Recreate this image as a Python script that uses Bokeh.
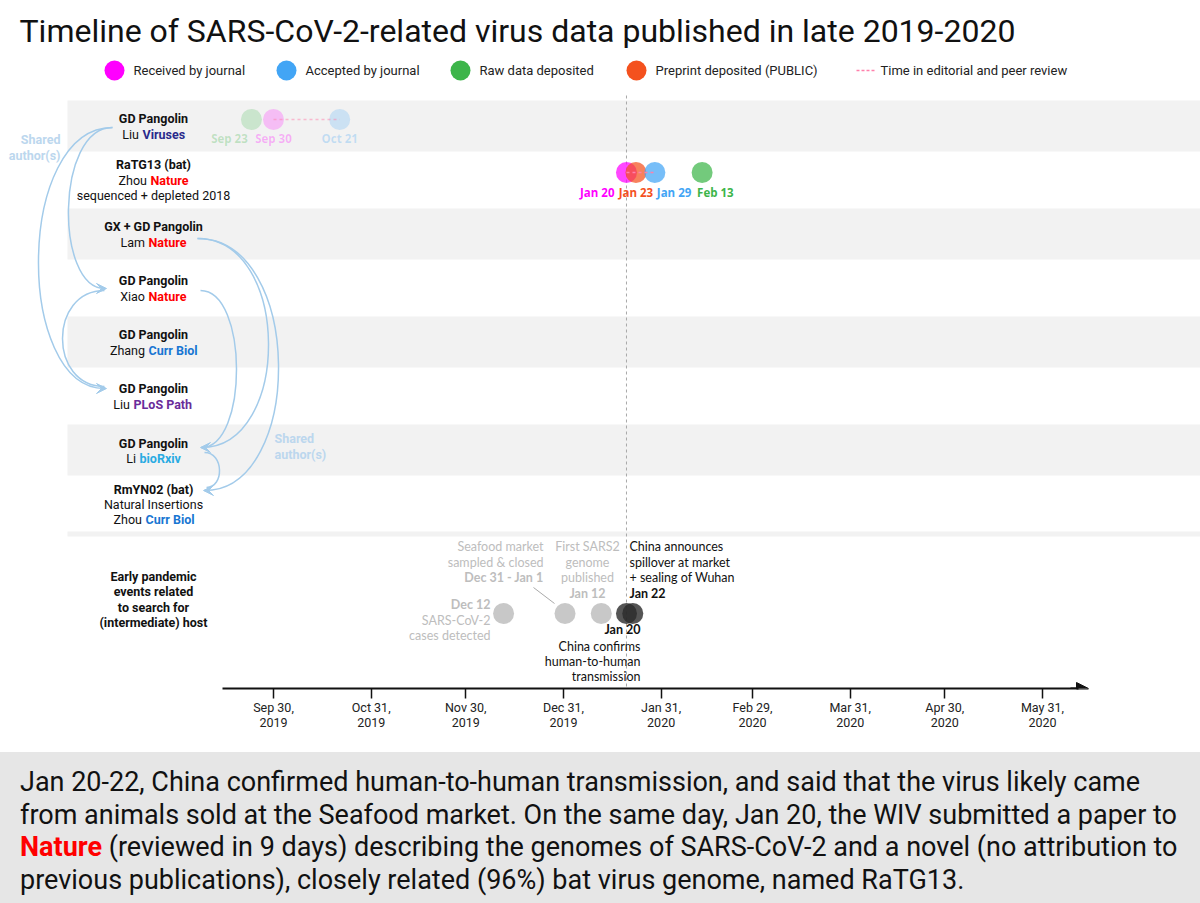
import pandas as pd
from bokeh.plotting import figure
from bokeh.models import Range1d, FixedTicker, Arrow, VeeHead, NormalHead, Div
from bokeh.layouts import column
from bokeh.core.properties import value
from bokeh.embed import file_html
from bokeh.resources import INLINE

# ---------------- data ----------------
title_text = "Timeline of SARS-CoV-2-related virus data published in late 2019-2020"

legend_names = ["Received by journal", "Accepted by journal", "Raw data deposited", "Preprint deposited (PUBLIC)"]
legend_colors = ["#FF00FF", "#42A5F5", "#3DB54A", "#F4511E"]
review_label = "Time in editorial and peer review"

row_titles = ["GD Pangolin", "RaTG13 (bat)", "GX + GD Pangolin", "GD Pangolin",
              "GD Pangolin", "GD Pangolin", "GD Pangolin", "RmYN02 (bat)"]
row_authors = ["Liu", "Zhou", "Lam", "Xiao", "Zhang", "Liu", "Li", "Zhou"]
row_journals = ["Viruses", "Nature", "Nature", "Nature", "Curr Biol", "PLoS Path", "bioRxiv", "Curr Biol"]
journal_colors = ["#2A2A8C", "#FF0000", "#FF0000", "#FF0000", "#1976D2", "#6A2C9A", "#29ABE2", "#1976D2"]

liu_dates = ["2019-09-23", "2019-09-30", "2019-10-21"]
liu_labels = ["Sep 23", "Sep 30", "Oct 21"]
liu_colors = ["#3DB54A", "#FF00FF", "#42A5F5"]

zhou_dates = ["2020-01-20", "2020-01-23", "2020-01-29", "2020-02-13"]
zhou_labels = ["Jan 20", "Jan 23", "Jan 29", "Feb 13"]
zhou_colors = ["#FF00FF", "#F4511E", "#42A5F5", "#3DB54A"]

event_dates = ["2019-12-12", "2019-12-31 12:00", "2020-01-12", "2020-01-20", "2020-01-22"]
event_colors = ["#C8C8C8", "#C8C8C8", "#C8C8C8", "#2A2A2A", "#2A2A2A"]
event_alpha = [1.0, 1.0, 1.0, 0.8, 0.8]

tick_dates = ["2019-09-30", "2019-10-31", "2019-11-30", "2019-12-31", "2020-01-31",
              "2020-02-29", "2020-03-31", "2020-04-30", "2020-05-31"]
tick_labels = ["Sep 30,\n2019", "Oct 31,\n2019", "Nov 30,\n2019", "Dec 31,\n2019", "Jan 31,\n2020",
               "Feb 29,\n2020", "Mar 31,\n2020", "Apr 30,\n2020", "May 31,\n2020"]

# ---------------- helpers ----------------
DAY = 86400000.0
def ms(d):
    return pd.Timestamp(d).value / 1e6

PPD = 3.1516  # pixels per day
REF = ms("2019-09-30")
def X(xr):  # layout pixel -> time coordinate
    return REF + (xr - 273) / PPD * DAY
def Y(yr):
    return yr

p = figure(width=1200, height=752, x_axis_type="datetime", y_axis_type=None,
           x_range=Range1d(X(0), X(1200)), y_range=Range1d(Y(688), Y(0)),
           output_backend="svg", toolbar_location=None, title=None,
           min_border_left=0, min_border_right=0, min_border_top=0, min_border_bottom=64,
           outline_line_color=None, background_fill_color="white", border_fill_color="white")
p.xgrid.visible = False

def T(xr, yr, s, size="12.5px", color="#111111", bold=False, align="center",
      font="Roboto", alpha=1.0):
    p.text(x=[X(xr)], y=[Y(yr)], text=[s], text_font=value(font), text_font_size=size,
           text_color=color, text_font_style="bold" if bold else "normal",
           text_align=align, text_baseline="middle", text_alpha=alpha)

# bands
band_tops = [100, 208, 316, 424, 531]
band_bots = [151, 259, 367, 475, 536]
p.quad(left=X(67), right=X(1200), top=[Y(v) for v in band_tops], bottom=[Y(v) for v in band_bots],
       fill_color="#F2F2F2", line_color=None)

# title
T(19, 30, title_text, size="32px", color="#111111", align="left")

# legend
leg_x = [114, 286, 460, 636]
p.scatter(x=[X(v) for v in leg_x], y=[Y(70)] * 4, size=20, fill_color=legend_colors, line_color=None)
for lx, name in zip(leg_x, legend_names):
    T(lx + 19, 70, name, size="13px", color="#222222", align="left")
p.line(x=[X(856), X(876)], y=[Y(70), Y(70)], line_color="#FF80AB", line_dash="3 2", line_width=1.5)
T(880, 70, review_label, size="13px", color="#222222", align="left")

# vertical dashed line at Jan 20
p.segment(x0=[ms("2020-01-20")], y0=[Y(95)], x1=[ms("2020-01-20")], y1=[Y(688)],
          line_color="#A8A8A8", line_dash="3 3", line_width=1)

# row labels
title_y = [118, 164, 226, 280, 334, 388, 443, 489]
author_y = [134, 180, 242, 296, 350, 404, 458, 519]
split_x = [142, 150, 148, 148, 148, 133, 139, 145]
for i in range(8):
    T(153, title_y[i], row_titles[i], bold=True)
    T(split_x[i] - 3.5, author_y[i], row_authors[i], align="right")
    T(split_x[i], author_y[i], row_journals[i], bold=True, color=journal_colors[i], align="left")
T(153, 195, "sequenced + depleted 2018")
T(153, 504, "Natural Insertions")

# shared author arcs
arc_col = "#A3CBEA"
arcs = [  # (x start, y start, x end, y end, bulge x)
    (112, 127, 104, 288, 68),
    (112, 127, 104, 388, 38),
    (104, 290, 104, 386, 62),
    (197, 238, 201, 447, 268),
    (197, 238, 204, 490, 278),
    (200, 290, 201, 447, 236),
    (204, 452, 206, 487, 219),
]
for xs, ys, xe, ye, b in arcs:
    c = (b - 0.125 * (xs + xe)) / 0.75
    p.bezier(x0=[X(xs)], y0=[Y(ys)], x1=[X(xe)], y1=[Y(ye)],
             cx0=[X(c)], cy0=[Y(ys)], cx1=[X(c)], cy1=[Y(ye)],
             line_color=arc_col, line_width=1.5)
heads = [(96, 288, 106, 288), (96, 388, 106, 388), (210, 447, 200, 447), (213, 490, 203, 490)]
for xs, ys, xe, ye in heads:
    p.add_layout(Arrow(end=VeeHead(size=10, fill_color=arc_col, line_color=arc_col),
                       x_start=X(xs), y_start=Y(ys), x_end=X(xe), y_end=Y(ye), line_alpha=0))
T(60, 139, "Shared", color="#BCD7EE", bold=True, align="right")
T(60, 155, "author(s)", color="#BCD7EE", bold=True, align="right")
T(274, 438, "Shared", color="#BCD7EE", bold=True, align="left")
T(274, 454, "author(s)", color="#BCD7EE", bold=True, align="left")

# Liu (Viruses) row - faded
liu_ms = [ms(d) for d in liu_dates]
p.scatter(x=liu_ms, y=[Y(119)] * 3, size=21, fill_color=liu_colors, fill_alpha=0.22, line_color=None)
p.line(x=[liu_ms[1], liu_ms[2]], y=[Y(119)] * 2, line_color="#FF80AB", line_dash="3 3",
       line_width=1.5, line_alpha=0.5)
p.text(x=liu_ms, y=[Y(138)] * 3, text=liu_labels, text_color=liu_colors, text_alpha=0.28,
       text_font=value("Open Sans"), text_font_size="11.5px", text_font_style="bold",
       text_align="center", text_baseline="middle", x_offset=[-22, 0, 0])

# Zhou (Nature) row
zhou_ms = [ms(d) for d in zhou_dates]
p.scatter(x=zhou_ms, y=[Y(172)] * 4, size=21, fill_color=zhou_colors, fill_alpha=0.72, line_color=None)
p.line(x=[zhou_ms[0], zhou_ms[2]], y=[Y(172)] * 2, line_color="#FF80AB", line_dash="3 3", line_width=1.5)
p.text(x=zhou_ms, y=[Y(192)] * 4, text=zhou_labels, text_color=zhou_colors,
       text_font=value("Open Sans"), text_font_size="11.5px", text_font_style="bold",
       text_align=["right", "center", "left", "left"], text_baseline="middle",
       x_offset=[-12, 0, 2, -5])

# early pandemic events
ev_ms = [ms(d) for d in event_dates]
p.scatter(x=ev_ms, y=[Y(613)] * 5, size=21, fill_color=event_colors, fill_alpha=event_alpha, line_color=None)
for yy, s in zip([576, 591, 607, 622], ["Early pandemic", "events related", "to search for", "(intermediate) host"]):
    T(153, yy, s, bold=True)
gray = "#BDBDBD"
EF = "Lato"
ES = "12.5px"
T(543, 546, "Seafood market", size=ES, color=gray, align="right", font=EF)
T(543, 562, "sampled & closed", size=ES, color=gray, align="right", font=EF)
T(543, 577, "Dec 31 - Jan 1", size=ES, color=gray, align="right", font=EF, bold=True)
p.line(x=[X(533), X(554)], y=[Y(587), Y(603)], line_color="#AAAAAA", line_width=1)
T(587, 546, "First SARS2", size=ES, color=gray, font=EF)
T(587, 562, "genome", size=ES, color=gray, font=EF)
T(587, 577, "published", size=ES, color=gray, font=EF)
T(587, 593, "Jan 12", size=ES, color=gray, font=EF, bold=True)
T(490, 604, "Dec 12", size=ES, color=gray, align="right", font=EF, bold=True)
T(490, 620, "SARS-CoV-2", size=ES, color=gray, align="right", font=EF)
T(490, 635, "cases detected", size=ES, color=gray, align="right", font=EF)
B = "#111111"
T(629, 546, "China announces", size=ES, color=B, align="left", font=EF)
T(629, 562, "spillover at market", size=ES, color=B, align="left", font=EF)
T(629, 577, "+ sealing of Wuhan", size=ES, color=B, align="left", font=EF)
T(629, 593, "Jan 22", size=ES, color=B, align="left", font=EF, bold=True)
T(640, 629, "Jan 20", size=ES, color=B, align="right", font=EF, bold=True)
T(640, 646, "China confirms", size=ES, color=B, align="right", font=EF)
T(640, 661, "human-to-human", size=ES, color=B, align="right", font=EF)
T(640, 676, "transmission", size=ES, color=B, align="right", font=EF)

# axis
tick_ms = [ms(d) for d in tick_dates]
ax = p.xaxis[0]
ax.ticker = FixedTicker(ticks=tick_ms)
ax.major_label_overrides = {t: l for t, l in zip(tick_ms, tick_labels)}
ax.bounds = (X(222), X(1078))
ax.axis_line_color = "#111111"
ax.axis_line_width = 2
ax.major_tick_line_color = "#111111"
ax.major_tick_line_width = 1.5
ax.major_tick_out = 10
ax.major_tick_in = 0
ax.minor_tick_out = 0
ax.minor_tick_in = 0
ax.major_label_text_font = "Roboto"
ax.major_label_text_font_size = "12.5px"
ax.major_label_text_color = "#222222"
ax.major_label_text_line_height = 1.05
ax.major_label_standoff = 1
p.add_layout(Arrow(end=NormalHead(size=12, fill_color="#111111", line_color="#111111"),
                   x_start=X(1070), y_start=Y(688), x_end=X(1088), y_end=Y(688),
                   line_color="#111111", line_width=2))

caption = ('Jan 20-22, China confirmed human-to-human transmission, and said that the virus likely came<br>'
           'from animals sold at the Seafood market. On the same day, Jan 20, the WIV submitted a paper to<br>'
           '<b style="color:#FF0000">Nature</b> (reviewed in 9 days) describing the genomes of SARS-CoV-2 '
           'and a novel (no attribution to<br>'
           'previous publications), closely related (96%) bat virus genome, named RaTG13.')
div = Div(text='<div style="padding:14px 0 0 20px; white-space:nowrap;">' + caption + '</div>',
          width=1200, height=151, margin=0,
          styles={"background-color": "#E6E6E6", "font-family": "Roboto", "font-size": "27px",
                  "line-height": "32.5px", "color": "#111111"})

layout = column(p, div, spacing=0)
open("out.html", "w").write(file_html(layout, INLINE))
